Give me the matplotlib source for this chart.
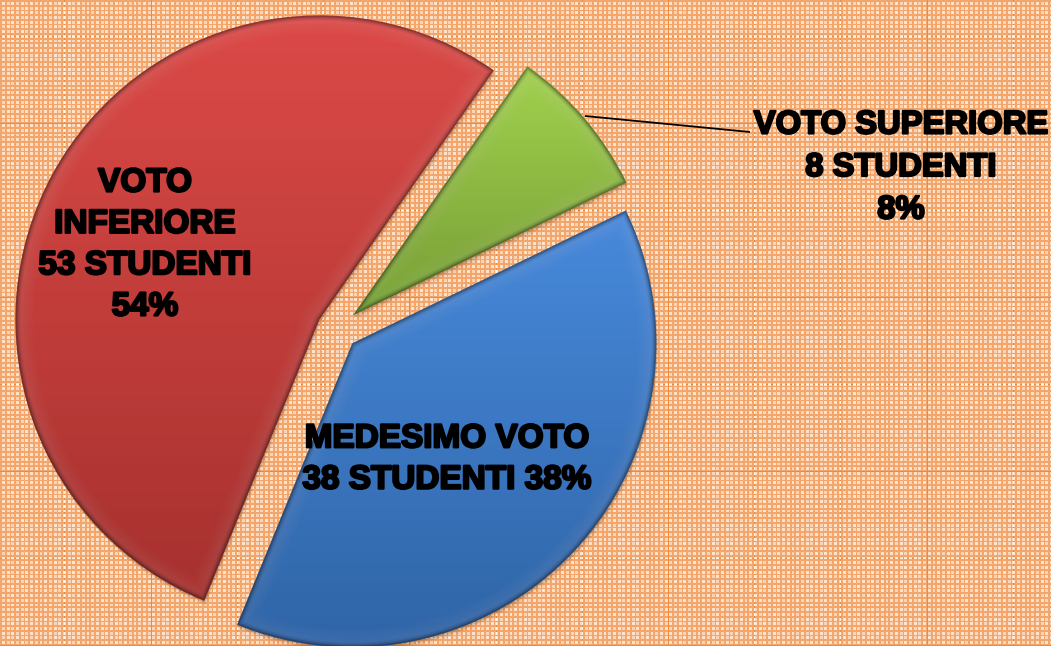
import numpy as np
import matplotlib
matplotlib.use("Agg")
import matplotlib.pyplot as plt
import matplotlib.patheffects as pe
from matplotlib.patches import PathPatch
from matplotlib.colors import to_rgb
from matplotlib.transforms import Affine2D

# ---- data
categories = ["VOTO INFERIORE", "MEDESIMO VOTO", "VOTO SUPERIORE"]
students = [53, 38, 8]
percents = [54, 38, 8]
colors = ["#DA413E", "#3F84DA", "#9CCF46"]

W, H = 1051, 646
fig = plt.figure(figsize=(W / 100, H / 100), dpi=100)
ax = fig.add_axes([0, 0, 1, 1])

# ---- textured paper background
yy, xx = np.mgrid[0:H, 0:W]
P = 4.7
cx = np.floor(xx / P).astype(int)
cy = np.floor(yy / P).astype(int)
fx = xx / P - cx
fy = yy / P - cy
base = np.array(to_rgb("#F3A66B"))
light = np.array(to_rgb("#FFE4CE"))
bg = np.ones((H, W, 3)) * base
dot = (fx > 0.30) & (fx < 0.92) & (fy > 0.30) & (fy < 0.92)
bg[dot] = light
bg[dot & ((cx + cy) % 2 == 1)] = light * 0.75 + base * 0.25
seam_x = (xx - 64) % 86.2 < 1.0
seam_y = (yy - 36) % 87 < 1.0
seam = seam_x | seam_y
bg[seam & dot] = np.array([1.0, 0.96, 0.90])
bg[seam & ~dot] = np.array(to_rgb("#EE8A3C"))
ax.imshow(bg, extent=(0, W, 0, H), origin="upper", interpolation="bilinear", zorder=0)

# ---- pie
wedges, _ = ax.pie(
    students,
    colors=colors,
    explode=[20, 21, 21],
    startangle=55.0,
    counterclock=True,
    radius=304,
    center=(337, H - 329),
    frame=False,
    wedgeprops=dict(linewidth=0, zorder=3),
)
ax.set_aspect("auto")
ax.axis("off")

# vertical shading and bevel, clipped to every slice
ramp = np.linspace(1, 0, 256)[:, None]
for w, c in zip(wedges, colors):
    path = w.get_path().transformed(w.get_patch_transform())
    for off, a in ((1.5, 0.16), (3, 0.12), (5, 0.06)):
        ax.add_patch(PathPatch(path.transformed(Affine2D().translate(off * 0.4, -off)),
                               fc="#5A3010", ec="none", alpha=a, zorder=2))
    y0, y1 = path.vertices[:, 1].min(), path.vertices[:, 1].max()
    x0, x1 = path.vertices[:, 0].min(), path.vertices[:, 0].max()
    rgba = np.zeros((256, 1, 4))
    rgba[..., 3] = (1 - ramp) * 0.24
    im = ax.imshow(rgba, extent=(x0, x1, y0, y1), origin="upper", aspect="auto", zorder=3.1)
    im.set_clip_path(w)
    rgba2 = np.ones((256, 1, 4))
    rgba2[..., 3] = ramp * 0.05
    im2 = ax.imshow(rgba2, extent=(x0, x1, y0, y1), origin="upper", aspect="auto", zorder=3.1)
    im2.set_clip_path(w)
    strokes = [("white", lw, 0.012) for lw in (26, 23, 20, 17, 14, 11, 8)]
    strokes += [("black", 7, 0.07), ("black", 4.5, 0.12), ("black", 2.5, 0.2)]
    for col, lw, a in strokes:
        p = PathPatch(path, fc="none", ec=col, lw=lw, alpha=a, zorder=3.2, joinstyle="miter")
        ax.add_patch(p)
        p.set_clip_path(w)
ax.set_xlim(0, W)
ax.set_ylim(0, H)

# ---- leader line
ax.plot([585, 750], [H - 116, H - 132], color="black", lw=1.3, zorder=4, solid_capstyle="butt")

# ---- labels
txt = dict(family="Liberation Sans", weight="bold", color="black",
           ha="center", va="center", zorder=5,
           path_effects=[pe.withStroke(linewidth=1.6, foreground="black")])
ax.text(145, H - 245, f"VOTO\nINFERIORE\n{students[0]} STUDENTI\n{percents[0]}%",
        fontsize=24, linespacing=1.43, **txt)
ax.text(447, H - 459.5, f"{categories[1]}\n{students[1]} STUDENTI {percents[1]}%",
        fontsize=24, linespacing=1.43, **txt)
ax.text(901, H - 167.5, f"{categories[2]}\n{students[2]} STUDENTI\n{percents[2]}%",
        fontsize=23.6, linespacing=1.48, **txt)

fig.savefig("out.png", dpi=100)
